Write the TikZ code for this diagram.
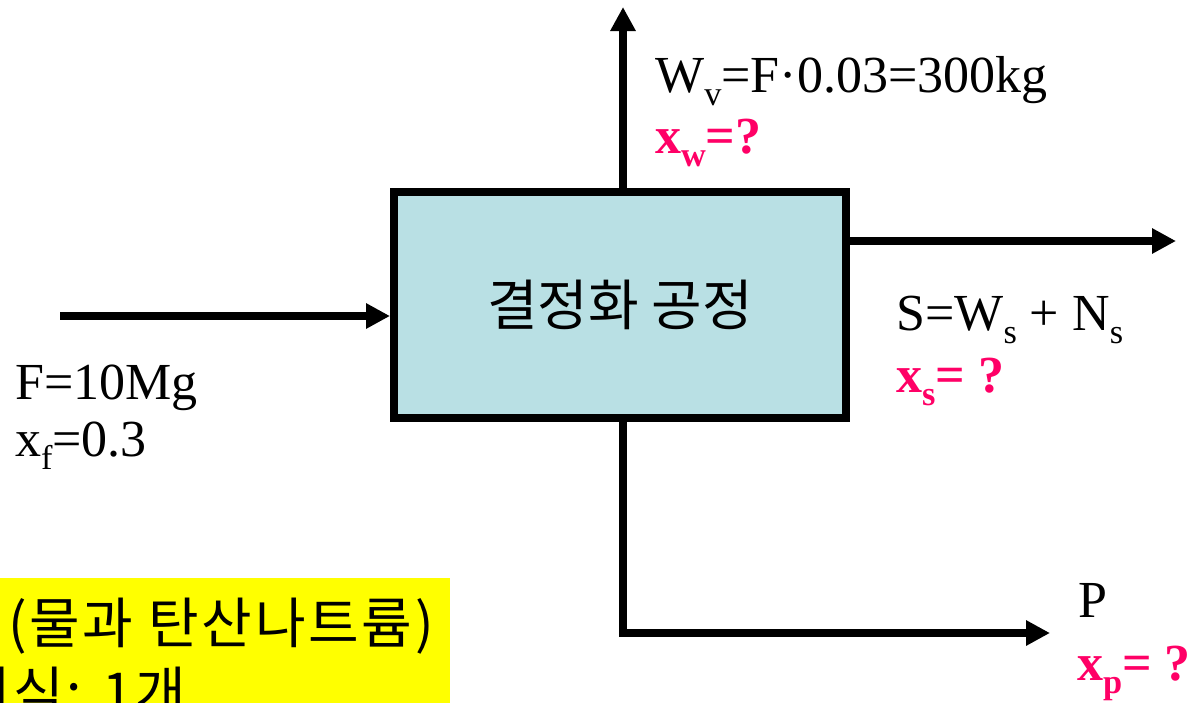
\documentclass[tikz,border=0pt]{standalone}
\usepackage{fontspec}
\usepackage{graphicx}
\setmainfont{Liberation Serif}
\newfontfamily\kr{Noto Sans CJK KR}
\newfontfamily\krsp[LetterSpace=5]{Noto Sans CJK KR}
\usetikzlibrary{arrows.meta}
\definecolor{boxfill}{RGB}{185,224,228}
\definecolor{qred}{RGB}{255,0,102}
\definecolor{hlyellow}{RGB}{255,255,0}
\newcommand\lowsub[1]{\raisebox{-0.26em}{\scalebox{0.66}{#1}}}
\tikzset{
  lbl/.style={anchor=base west, inner sep=0pt, font=\fontsize{52}{57}\selectfont},
  qlbl/.style={lbl, text=qred, font=\fontsize{52}{57}\selectfont\bfseries},
  krl/.style={anchor=base west, inner sep=0pt, font=\krsp\fontsize{55}{60}\selectfont},
  flow/.style={line width=7.5pt, -{Triangle[length=24pt,width=24pt]}},
  flowplain/.style={line width=7.5pt},
  procbox/.style={draw, line width=8pt, fill=boxfill, minimum width=452pt, minimum height=226pt, inner sep=0pt, font=\kr\fontsize{55}{60}\selectfont}
}
\begin{document}
\begin{tikzpicture}[x=1pt,y=-1pt]
\path[use as bounding box] (0,0) rectangle (1196,702);
\clip (0,0) rectangle (1196,702);
% yellow note
\fill[hlyellow] (-5,578) rectangle (450,710);
\node[krl] (note1) at (8,643) {(물과 탄산나트륨)};
\node[krl] (note2) at (-40,712) {지식: 1개};
% process box
\node[procbox] (proc) at (620,305) {\raisebox{-3pt}{결정화 공정}};
% connectors
\coordinate (fin) at (60,316);
\coordinate (vtop) at (623,7);
\coordinate (sout) at (1176,241);
\coordinate (pcorner) at (623,633);
\coordinate (pout) at (1050,633);
\draw[flow] (fin) -- (fin -| proc.west);
\draw[flow] (vtop |- proc.north) -- (vtop);
\draw[flow] (sout -| proc.east) -- (sout);
\draw[flowplain] (pcorner |- proc.south) -- (pcorner);
\draw[flow] ([xshift=-3.75pt]pcorner) -- (pout);
% labels
\node[lbl] (wv) at (655,92) {W\lowsub{v}=F·0.03=300kg};
\node[qlbl] (xw) at (655,153) {x\lowsub{w}=?};
\node[lbl] (s) at (896,330) {S=W\lowsub{s} + N\lowsub{s}};
\node[qlbl] (xs) at (896,392) {x\lowsub{s}= ?};
\node[lbl] (f) at (15,399) {F=10Mg};
\node[lbl] (xf) at (15,456) {x\lowsub{f}=0.3};
\node[lbl] (p) at (1078,617) {P};
\node[qlbl] (xp) at (1077,680) {x\lowsub{p}= ?};
\end{tikzpicture}
\end{document}
